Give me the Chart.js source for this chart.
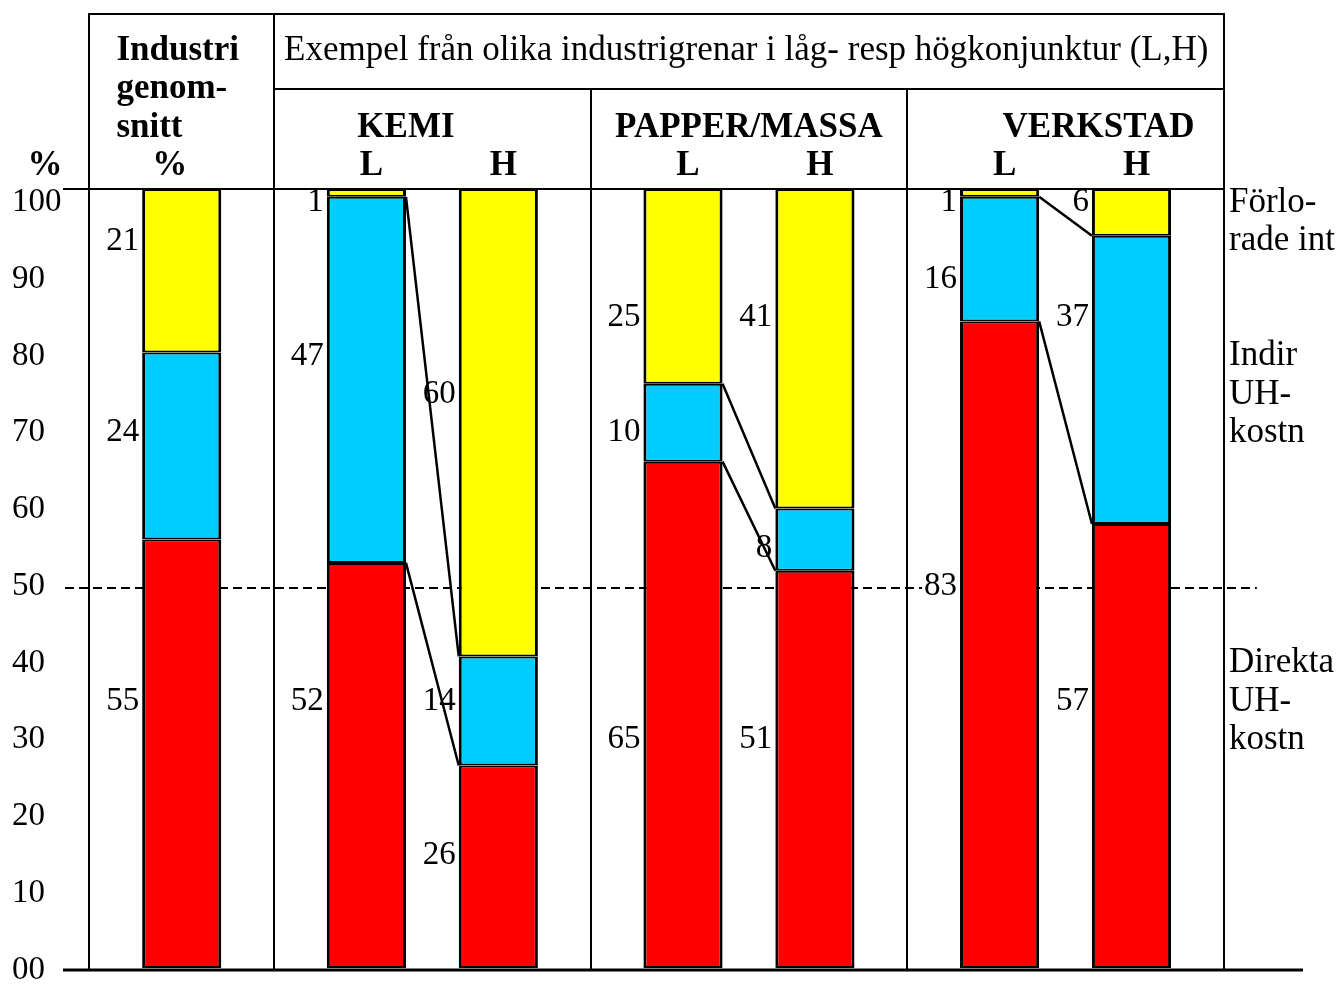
<!DOCTYPE html>
<html lang="sv">
<head>
<meta charset="utf-8">
<title>Underhållskostnader i låg- och högkonjunktur</title>
<script src="https://cdn.jsdelivr.net/npm/chart.js@4.4.1/dist/chart.umd.min.js"></script>
<style>
  html, body { margin: 0; padding: 0; background: #fff; }
  canvas { display: block; }
</style>
</head>
<body>
<canvas id="chart" width="1337" height="985"></canvas>
<script>
// Bars, left to right
const categories = ['Industri genomsnitt', 'KEMI L', 'KEMI H', 'PAPPER/MASSA L', 'PAPPER/MASSA H', 'VERKSTAD L', 'VERKSTAD H'];

// Share of the maintenance cost, %
const direktaUH    = [55, 52, 26, 65, 51, 83, 57];
const indirUH      = [24, 47, 14, 10,  8, 16, 37];
const forloradeInt = [21,  1, 60, 25, 41,  1,  6];

// Left axis
const yTickValues = [0, 10, 20, 30, 40, 50, 60, 70, 80, 90, 100];
const yTickLabels = ['00', '10', '20', '30', '40', '50', '60', '70', '80', '90', '100'];

// Header texts
const overallTitle = ['Industri', 'genom-', 'snitt'];
const groupNote = 'Exempel från olika industrigrenar i låg- resp högkonjunktur (L,H)';
const groupTitles = ['KEMI', 'PAPPER/MASSA', 'VERKSTAD'];
const phaseLabels = ['L', 'H'];
const unitLabel = '%';

// Series names written in the right margin
const seriesNames = [['Direkta', 'UH-', 'kostn'], ['Indir', 'UH-', 'kostn'], ['Förlo-', 'rade int']];

/* ---------- layout ---------- */
const SERIF = '"Liberation Serif", "Times New Roman", serif';
const font = (size, bold) => `${bold ? 'bold ' : ''}${size}px ${SERIF}`;
const SLOT = { bar: 3, gap: 2, margin: 2 };      // horizontal units of the table
const HEADER_TOP = 14, HEADER_SPLIT = 89;        // header rules, px
const HEADER_ROWS = [60, 98, 136.5, 175];        // header text baselines, px
const LABEL_DROP = 2;                            // text sits a little under the tick position
const COLORS = ['#FF0000', '#00CCFF', '#FFFF00'];

// Table columns: one for the overall average, one per industry (L and H bar)
const columns = [
  { bars: 1 },
  { bars: 2, title: groupTitles[0], titleShift: -1 },
  { bars: 2, title: groupTitles[1], titleShift: 0 },
  { bars: 2, title: groupTitles[2], titleShift: 1.25 },
];
const barSlots = [];
const columnEdges = [];
{
  let edge = -(SLOT.margin + SLOT.bar / 2);
  columnEdges.push(edge);
  columns.forEach(col => {
    col.start = edge;
    col.barIdx = [];
    let c = edge + SLOT.margin + SLOT.bar / 2;
    for (let k = 0; k < col.bars; k++) {
      col.barIdx.push(barSlots.length);
      barSlots.push(c);
      c += SLOT.bar + SLOT.gap;
    }
    edge += 2 * SLOT.margin + col.bars * SLOT.bar + (col.bars - 1) * SLOT.gap;
    col.end = edge;
    columnEdges.push(edge);
  });
}

// Heights (left-axis units) where each value label is written
const valueLabelRows = [
  [35, 35, 15, 30, 30, 50, 35],     // direkta
  [70, 80, 35, 70, 55, 90, 85],     // indirekta
  [95, 100, 75, 85, 85, 100, 100],  // förlorade
];
const nameRows = [[40, 35, 30], [80, 75, 70], [100, 95]];

const series = [direktaUH, indirUH, forloradeInt];
const seriesLabels = ['Direkta UH-kostn', 'Indir UH-kostn', 'Förlorade int'];

function forEachValueLabel(chart, fn) {
  const yl = chart.scales.yl;
  series.forEach((vals, i) => {
    const meta = chart.getDatasetMeta(i);
    vals.forEach((v, j) => {
      const el = meta.data[j];
      const { x, width } = el.getProps(['x', 'width'], true);
      fn(String(v), x - width / 2 - 3, yl.getPixelForValue(valueLabelRows[i][j]) + LABEL_DROP);
    });
  });
}

const tablePlugin = {
  id: 'tableFrame',
  beforeDatasetsDraw(chart) {
    const { ctx, chartArea: a, scales: { x, yl } } = chart;
    const edges = columnEdges.map(v => Math.round(x.getPixelForValue(v)));
    const right = edges[edges.length - 1];
    ctx.save();
    // 50 % reference line
    ctx.strokeStyle = '#000';
    ctx.lineWidth = 2;
    ctx.setLineDash([9, 5]);
    const yRef = Math.round(yl.getPixelForValue(50) + LABEL_DROP + 2);
    ctx.beginPath();
    ctx.moveTo(a.left + 2, yRef);
    ctx.lineTo(x.getPixelForValue(columnEdges[columnEdges.length - 1] + 1.25), yRef);
    ctx.stroke();
    ctx.setLineDash([]);
    // blank paper behind the value labels
    ctx.font = font(33);
    ctx.fillStyle = '#fff';
    forEachValueLabel(chart, (txt, xr, yc) => {
      const w = ctx.measureText(txt).width;
      ctx.fillRect(xr - w - 2, yc - 13, w + 4, 26);
    });
    // table rules
    ctx.lineWidth = 2;
    ctx.beginPath();
    ctx.moveTo(edges[0], HEADER_TOP); ctx.lineTo(right, HEADER_TOP);
    ctx.moveTo(edges[1], HEADER_SPLIT); ctx.lineTo(right, HEADER_SPLIT);
    ctx.moveTo(a.left, Math.round(a.top)); ctx.lineTo(right, Math.round(a.top));
    edges.forEach((ex, i) => {
      const top = (i <= 1 || i === edges.length - 1) ? HEADER_TOP - 1 : HEADER_SPLIT;
      ctx.moveTo(ex, top);
      ctx.lineTo(ex, a.bottom + 2);
    });
    ctx.stroke();
    ctx.restore();
  },
  afterDatasetsDraw(chart) {
    const { ctx } = chart;
    ctx.save();
    // value labels
    ctx.font = font(33);
    ctx.fillStyle = '#000';
    ctx.textAlign = 'right';
    ctx.textBaseline = 'middle';
    forEachValueLabel(chart, (txt, xr, yc) => ctx.fillText(txt, xr, yc));
    // lines joining the L and H bars of each industry
    ctx.strokeStyle = '#000';
    ctx.lineWidth = 2.5;
    ctx.beginPath();
    columns.filter(c => c.bars === 2).forEach(col => {
      const [l, h] = col.barIdx;
      [0, 1].forEach(i => {
        const meta = chart.getDatasetMeta(i);
        const L = meta.data[l].getProps(['x', 'y', 'width'], true);
        const H = meta.data[h].getProps(['x', 'y', 'width'], true);
        ctx.moveTo(L.x + L.width / 2, L.y);
        ctx.lineTo(H.x - H.width / 2, H.y);
      });
    });
    ctx.stroke();
    ctx.restore();
  },
  afterDraw(chart) {
    const { ctx, chartArea: a, scales: { x, yl } } = chart;
    const px = v => x.getPixelForValue(v);
    const right = Math.round(px(columnEdges[columnEdges.length - 1]));
    ctx.save();
    ctx.fillStyle = '#000';
    ctx.textBaseline = 'alphabetic';

    // overall-average column heading
    const first = columns[0];
    ctx.font = font(35, true);
    ctx.textAlign = 'left';
    overallTitle.forEach((t, i) => ctx.fillText(t, px(first.start) + 27, HEADER_ROWS[i]));
    ctx.textAlign = 'center';
    ctx.fillText(unitLabel, px(barSlots[first.barIdx[0]]) - 12, HEADER_ROWS[3]);
    ctx.fillText(unitLabel, a.left - 18, HEADER_ROWS[3]);

    // industry columns
    ctx.font = font(35);
    ctx.textAlign = 'left';
    ctx.fillText(groupNote, px(columns[1].start) + 10, HEADER_ROWS[0]);
    ctx.font = font(35, true);
    ctx.textAlign = 'center';
    columns.slice(1).forEach(col => {
      const mid = (col.start + col.end) / 2;
      ctx.fillText(col.title, px(mid + col.titleShift), HEADER_ROWS[2]);
      col.barIdx.forEach((b, k) => ctx.fillText(phaseLabels[k], px(barSlots[b]) + 5, HEADER_ROWS[3]));
    });

    // series names in the right margin
    ctx.font = font(35);
    ctx.textAlign = 'left';
    ctx.textBaseline = 'middle';
    seriesNames.forEach((lines, i) => {
      lines.forEach((t, k) => ctx.fillText(t, right + 5, yl.getPixelForValue(nameRows[i][k]) + LABEL_DROP));
    });

    // base line
    ctx.strokeStyle = '#000';
    ctx.lineWidth = 3;
    ctx.beginPath();
    ctx.moveTo(a.left, a.bottom + 2);
    ctx.lineTo(a.right, a.bottom + 2);
    ctx.stroke();
    ctx.restore();
  }
};

new Chart(document.getElementById('chart'), {
  type: 'bar',
  data: {
    labels: categories,
    datasets: series.map((vals, i) => ({
      label: seriesLabels[i],
      data: vals.map((v, j) => ({ x: barSlots[j], y: v })),
      backgroundColor: COLORS[i],
      borderColor: '#000000',
      borderWidth: { top: 2, bottom: 2, left: 3, right: 3 },
      borderSkipped: false,
      inflateAmount: 0,
      categoryPercentage: 1,
      barPercentage: SLOT.bar / (SLOT.bar + SLOT.gap),
      xAxisID: 'x',
      yAxisID: 'y',
    })),
  },
  options: {
    responsive: false,
    animation: false,
    devicePixelRatio: 1,
    layout: { padding: { left: 12, right: 34, top: 189, bottom: 17 } },
    plugins: { legend: { display: false }, tooltip: { enabled: false } },
    scales: {
      x: {
        type: 'linear',
        display: false,
        offset: false,
        stacked: true,
        min: columnEdges[0] - 1,
        max: columnEdges[columnEdges.length - 1] + 3,
        afterBuildTicks: s => { s.ticks = columnEdges.map(v => ({ value: v })); },
      },
      y: { display: false, stacked: true, min: 0, max: 100 },
      yl: {
        position: 'left',
        min: 0,
        max: 101.5,
        grid: { display: false },
        border: { display: false },
        afterBuildTicks: s => { s.ticks = yTickValues.map(v => ({ value: v })); },
        afterFit: s => { s.width = 51; s.paddingTop = 0; s.paddingBottom = 0; },
        ticks: {
          autoSkip: false,
          crossAlign: 'far',
          padding: 0,
          labelOffset: LABEL_DROP,
          color: '#000',
          font: { family: 'Liberation Serif', size: 33 },
          callback: (v, i) => yTickLabels[i],
        },
      },
    },
  },
  plugins: [tablePlugin],
});
</script>
</body>
</html>
